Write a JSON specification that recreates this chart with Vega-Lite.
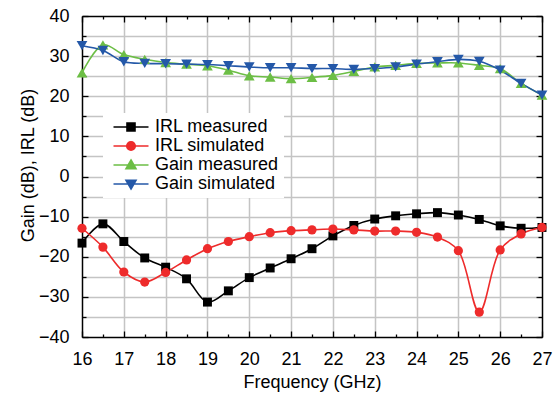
{
  "$schema": "https://vega.github.io/schema/vega-lite/v6.json",
  "width": 460,
  "height": 321,
  "autosize": {"type": "none"},
  "padding": {"left": 82, "top": 16, "right": 16, "bottom": 59},
  "config": {
    "font": "Liberation Sans",
    "view": {"stroke": null},
    "axis": {
      "labelFont": "Liberation Sans", "titleFont": "Liberation Sans",
      "labelFontSize": 18, "titleFontSize": 18,
      "labelColor": "black", "titleColor": "black", "titleFontWeight": "normal",
      "domainColor": "black", "domainWidth": 1.5,
      "tickColor": "black", "tickWidth": 1.3,
      "gridColor": "#c4c4c4", "gridWidth": 1.5
    }
  },
  "data": {"values": [
    {"f":16,"v":-16.6,"series":"IRL measured"},{"f":16.5,"v":-11.8,"series":"IRL measured"},{"f":17,"v":-16.2,"series":"IRL measured"},{"f":17.5,"v":-20.3,"series":"IRL measured"},{"f":18,"v":-22.6,"series":"IRL measured"},{"f":18.5,"v":-25.5,"series":"IRL measured"},{"f":19,"v":-31.3,"series":"IRL measured"},{"f":19.5,"v":-28.5,"series":"IRL measured"},{"f":20,"v":-25.2,"series":"IRL measured"},{"f":20.5,"v":-22.8,"series":"IRL measured"},{"f":21,"v":-20.5,"series":"IRL measured"},{"f":21.5,"v":-18.0,"series":"IRL measured"},{"f":22,"v":-14.8,"series":"IRL measured"},{"f":22.5,"v":-12.2,"series":"IRL measured"},{"f":23,"v":-10.6,"series":"IRL measured"},{"f":23.5,"v":-9.8,"series":"IRL measured"},{"f":24,"v":-9.3,"series":"IRL measured"},{"f":24.5,"v":-9.0,"series":"IRL measured"},{"f":25,"v":-9.6,"series":"IRL measured"},{"f":25.5,"v":-10.7,"series":"IRL measured"},{"f":26,"v":-12.3,"series":"IRL measured"},{"f":26.5,"v":-12.9,"series":"IRL measured"},{"f":27,"v":-12.7,"series":"IRL measured"},
    {"f":16,"v":-12.9,"series":"IRL simulated"},{"f":16.5,"v":-17.6,"series":"IRL simulated"},{"f":17,"v":-23.8,"series":"IRL simulated"},{"f":17.5,"v":-26.3,"series":"IRL simulated"},{"f":18,"v":-23.9,"series":"IRL simulated"},{"f":18.5,"v":-20.8,"series":"IRL simulated"},{"f":19,"v":-18.0,"series":"IRL simulated"},{"f":19.5,"v":-16.2,"series":"IRL simulated"},{"f":20,"v":-15.0,"series":"IRL simulated"},{"f":20.5,"v":-14.0,"series":"IRL simulated"},{"f":21,"v":-13.5,"series":"IRL simulated"},{"f":21.5,"v":-13.3,"series":"IRL simulated"},{"f":22,"v":-13.1,"series":"IRL simulated"},{"f":22.5,"v":-13.3,"series":"IRL simulated"},{"f":23,"v":-13.6,"series":"IRL simulated"},{"f":23.5,"v":-13.6,"series":"IRL simulated"},{"f":24,"v":-13.9,"series":"IRL simulated"},{"f":24.5,"v":-15.1,"series":"IRL simulated"},{"f":25,"v":-18.5,"series":"IRL simulated"},{"f":25.5,"v":-33.8,"series":"IRL simulated"},{"f":26,"v":-18.3,"series":"IRL simulated"},{"f":26.5,"v":-14.3,"series":"IRL simulated"},{"f":27,"v":-12.7,"series":"IRL simulated"},
    {"f":16,"v":25.8,"series":"Gain measured"},{"f":16.5,"v":32.8,"series":"Gain measured"},{"f":17,"v":30.4,"series":"Gain measured"},{"f":17.5,"v":29.2,"series":"Gain measured"},{"f":18,"v":28.4,"series":"Gain measured"},{"f":18.5,"v":28.0,"series":"Gain measured"},{"f":19,"v":27.6,"series":"Gain measured"},{"f":19.5,"v":26.5,"series":"Gain measured"},{"f":20,"v":25.1,"series":"Gain measured"},{"f":20.5,"v":24.8,"series":"Gain measured"},{"f":21,"v":24.4,"series":"Gain measured"},{"f":21.5,"v":24.7,"series":"Gain measured"},{"f":22,"v":25.2,"series":"Gain measured"},{"f":22.5,"v":26.2,"series":"Gain measured"},{"f":23,"v":27.3,"series":"Gain measured"},{"f":23.5,"v":27.7,"series":"Gain measured"},{"f":24,"v":28.2,"series":"Gain measured"},{"f":24.5,"v":28.3,"series":"Gain measured"},{"f":25,"v":28.3,"series":"Gain measured"},{"f":25.5,"v":27.7,"series":"Gain measured"},{"f":26,"v":26.9,"series":"Gain measured"},{"f":26.5,"v":23.2,"series":"Gain measured"},{"f":27,"v":20.3,"series":"Gain measured"},
    {"f":16,"v":32.6,"series":"Gain simulated"},{"f":16.5,"v":31.4,"series":"Gain simulated"},{"f":17,"v":28.6,"series":"Gain simulated"},{"f":17.5,"v":28.2,"series":"Gain simulated"},{"f":18,"v":28.1,"series":"Gain simulated"},{"f":18.5,"v":28.0,"series":"Gain simulated"},{"f":19,"v":27.9,"series":"Gain simulated"},{"f":19.5,"v":27.6,"series":"Gain simulated"},{"f":20,"v":27.3,"series":"Gain simulated"},{"f":20.5,"v":27.1,"series":"Gain simulated"},{"f":21,"v":27.1,"series":"Gain simulated"},{"f":21.5,"v":26.9,"series":"Gain simulated"},{"f":22,"v":26.9,"series":"Gain simulated"},{"f":22.5,"v":26.7,"series":"Gain simulated"},{"f":23,"v":26.9,"series":"Gain simulated"},{"f":23.5,"v":27.3,"series":"Gain simulated"},{"f":24,"v":28.0,"series":"Gain simulated"},{"f":24.5,"v":28.6,"series":"Gain simulated"},{"f":25,"v":29.2,"series":"Gain simulated"},{"f":25.5,"v":28.7,"series":"Gain simulated"},{"f":26,"v":26.5,"series":"Gain simulated"},{"f":26.5,"v":23.2,"series":"Gain simulated"},{"f":27,"v":20.3,"series":"Gain simulated"}
  ]},
  "layer": [
    {
      "mark": {"type": "line", "interpolate": "catmull-rom", "strokeWidth": 1.6},
      "encoding": {
        "x": {"field": "f", "type": "quantitative",
          "scale": {"domain": [16, 27], "nice": false, "zero": false},
          "axis": {"orient": "bottom", "title": "Frequency (GHz)",
            "values": [16,16.5,17,17.5,18,18.5,19,19.5,20,20.5,21,21.5,22,22.5,23,23.5,24,24.5,25,25.5,26,26.5,27],
            "labelExpr": "datum.value % 1 === 0 ? format(datum.value, 'd') : ''",
            "tickSize": {"condition": {"test": "datum.value % 1 === 0", "value": -6}, "value": -3},
            "labelPadding": 28, "labelBaseline": "middle", "labelFlush": false, "labelOverlap": false,
            "titleY": 45, "titleBaseline": "middle",
            "grid": true,
            "gridOpacity": {"condition": {"test": "datum.value % 1 !== 0 || datum.value === 16 || datum.value === 27", "value": 0}, "value": 1}}},
        "y": {"field": "v", "type": "quantitative",
          "scale": {"domain": [-40, 40], "nice": false},
          "axis": {"orient": "left", "title": "Gain (dB), IRL (dB)",
            "values": [-40,-35,-30,-25,-20,-15,-10,-5,0,5,10,15,20,25,30,35,40],
            "labelExpr": "datum.value % 10 === 0 ? replace(format(datum.value, 'd'), '-', '\u2212') : ''",
            "tickSize": {"condition": {"test": "datum.value % 10 === 0", "value": -6}, "value": -4},
            "labelPadding": 19, "labelFlush": false, "labelOverlap": false,
            "titleX": -54, "titleY": 149, "titleAngle": -90, "titleAlign": "center", "titleBaseline": "middle",
            "grid": true,
            "gridOpacity": {"condition": {"test": "datum.value === 40 || datum.value === -40", "value": 0}, "value": 1}}},
        "color": {"field": "series", "type": "nominal",
          "scale": {"domain": ["IRL measured", "IRL simulated", "Gain measured", "Gain simulated"], "range": ["#000000", "#ee2b2b", "#6cbe45", "#2458a8"]},
          "legend": null}
      }
    },
    {
      "mark": {"type": "point", "filled": true, "opacity": 1},
      "encoding": {
        "x": {"field": "f", "type": "quantitative",
          "scale": {"domain": [16, 27], "nice": false, "zero": false},
          "axis": {"orient": "top", "title": null, "labels": false, "grid": false,
            "values": [16,16.5,17,17.5,18,18.5,19,19.5,20,20.5,21,21.5,22,22.5,23,23.5,24,24.5,25,25.5,26,26.5,27],
            "tickSize": {"condition": {"test": "datum.value % 1 === 0", "value": -6}, "value": -3}}},
        "y": {"field": "v", "type": "quantitative",
          "scale": {"domain": [-40, 40], "nice": false},
          "axis": {"orient": "right", "title": null, "labels": false, "grid": false,
            "values": [-40,-35,-30,-25,-20,-15,-10,-5,0,5,10,15,20,25,30,35,40],
            "tickSize": {"condition": {"test": "datum.value % 10 === 0", "value": -6}, "value": -4}}},
        "color": {"field": "series", "type": "nominal",
          "scale": {"domain": ["IRL measured", "IRL simulated", "Gain measured", "Gain simulated"], "range": ["#000000", "#ee2b2b", "#6cbe45", "#2458a8"]},
          "legend": null},
        "shape": {"field": "series", "type": "nominal",
          "scale": {"domain": ["IRL measured", "IRL simulated", "Gain measured", "Gain simulated"], "range": ["square", "circle", "triangle-up", "triangle-down"]},
          "legend": null},
        "size": {"field": "series", "type": "nominal",
          "scale": {"type": "ordinal", "domain": ["IRL measured", "IRL simulated", "Gain measured", "Gain simulated"], "range": [80, 85, 115, 115]},
          "legend": null}
      }
    },
    {
      "transform": [{"filter": "false"}],
      "mark": {"type": "point", "filled": true, "opacity": 1, "strokeWidth": 1.6, "size": 100},
      "encoding": {
        "fill": {"field": "series", "type": "nominal",
          "scale": {"domain": ["IRL measured", "IRL simulated", "Gain measured", "Gain simulated"], "range": ["#000000", "#ee2b2b", "#6cbe45", "#2458a8"]},
          "legend": {"title": null, "orient": "none", "legendX": 21, "legendY": 97, "fillColor": "white", "padding": 5, "labelFontSize": 18, "labelFont": "Liberation Sans", "labelColor": "black", "symbolSize": 100, "symbolStrokeWidth": 1.6, "symbolOpacity": 1, "symbolOffset": 14, "labelOffset": 15, "rowPadding": 1, "labelLimit": 300}},
        "stroke": {"field": "series", "type": "nominal",
          "scale": {"domain": ["IRL measured", "IRL simulated", "Gain measured", "Gain simulated"], "range": ["#000000", "#ee2b2b", "#6cbe45", "#2458a8"]},
          "legend": {"title": null, "orient": "none", "legendX": 21, "legendY": 97, "fillColor": "white", "padding": 5, "labelFontSize": 18, "labelFont": "Liberation Sans", "labelColor": "black", "symbolSize": 100, "symbolStrokeWidth": 1.6, "symbolOpacity": 1, "symbolOffset": 14, "labelOffset": 15, "rowPadding": 1, "labelLimit": 300}},
        "shape": {"field": "series", "type": "nominal",
          "scale": {"domain": ["IRL measured", "IRL simulated", "Gain measured", "Gain simulated"], "range": ["M-3.5,0H3.5M-0.8,-0.8H0.8V0.8H-0.8Z", "M-3.5,0H3.5M-0.85,0A0.85,0.85,0,1,0,0.85,0A0.85,0.85,0,1,0,-0.85,0Z", "M-3.5,0H3.5M0,-1L1,0.75H-1Z", "M-3.5,0H3.5M0,1L1,-0.75H-1Z"]},
          "legend": {"title": null, "orient": "none", "legendX": 21, "legendY": 97, "fillColor": "white", "padding": 5, "labelFontSize": 18, "labelFont": "Liberation Sans", "labelColor": "black", "symbolSize": 100, "symbolStrokeWidth": 1.6, "symbolOpacity": 1, "symbolOffset": 14, "labelOffset": 15, "rowPadding": 1, "labelLimit": 300}}
      }
    }
  ],
  "resolve": {
    "scale": {"color": "independent", "shape": "independent", "size": "independent", "fill": "independent", "stroke": "independent"},
    "axis": {"x": "independent", "y": "independent"}
  }
}
